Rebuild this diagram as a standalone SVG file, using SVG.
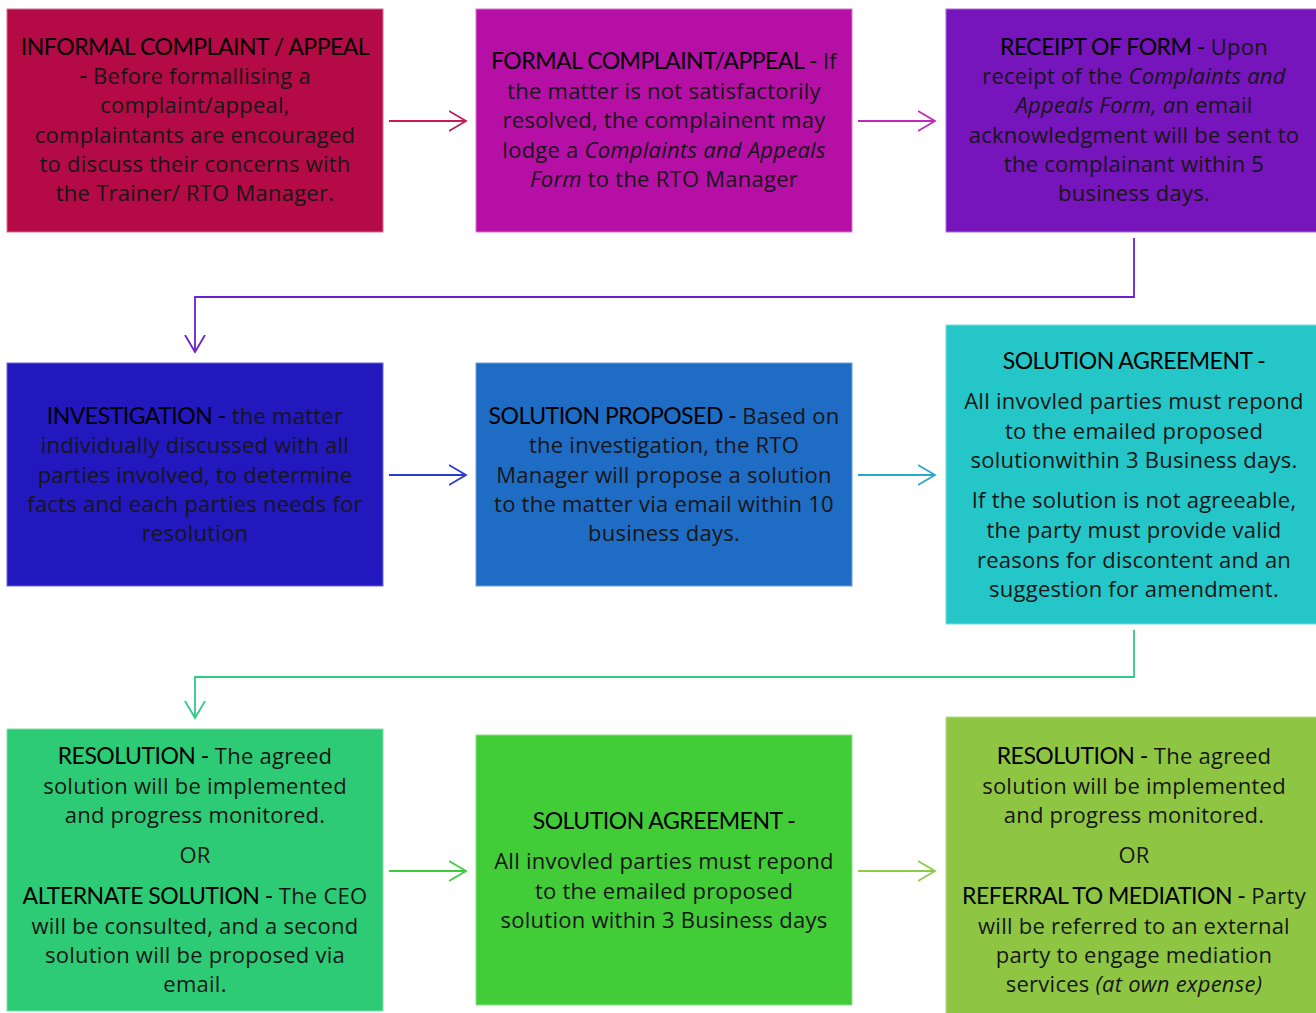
<svg xmlns="http://www.w3.org/2000/svg" width="1316" height="1013" viewBox="0 0 1316 1013">
<defs>
<style>
.box{stroke-width:1;}
.t{font-family:"Open Sans","Liberation Sans",sans-serif;font-weight:400;font-size:22px;fill:#161616;text-anchor:middle;letter-spacing:0.25px;}
.h{font-family:Lato,"Liberation Sans",sans-serif;font-weight:400;font-size:23px;fill:#000;letter-spacing:-0.5px;}
.i{font-style:italic;}
.c{fill:none;stroke-width:1.8;}
</style>
<marker id="m1" markerUnits="userSpaceOnUse" markerWidth="20" markerHeight="24" refX="17" refY="11" orient="auto"><path d="M0,1 L17,11 L0,21" fill="none" stroke="#C41C55" stroke-width="1.8"/></marker>
<marker id="m2" markerUnits="userSpaceOnUse" markerWidth="20" markerHeight="24" refX="17" refY="11" orient="auto"><path d="M0,1 L17,11 L0,21" fill="none" stroke="#C02AB5" stroke-width="1.8"/></marker>
<marker id="m3" markerUnits="userSpaceOnUse" markerWidth="20" markerHeight="24" refX="17" refY="11" orient="auto"><path d="M0,1 L17,11 L0,21" fill="none" stroke="#6A1FD0" stroke-width="1.8"/></marker>
<marker id="m4" markerUnits="userSpaceOnUse" markerWidth="20" markerHeight="24" refX="17" refY="11" orient="auto"><path d="M0,1 L17,11 L0,21" fill="none" stroke="#2A3DC8" stroke-width="1.8"/></marker>
<marker id="m5" markerUnits="userSpaceOnUse" markerWidth="20" markerHeight="24" refX="17" refY="11" orient="auto"><path d="M0,1 L17,11 L0,21" fill="none" stroke="#2CA5CF" stroke-width="1.8"/></marker>
<marker id="m6" markerUnits="userSpaceOnUse" markerWidth="20" markerHeight="24" refX="17" refY="11" orient="auto"><path d="M0,1 L17,11 L0,21" fill="none" stroke="#2FCB86" stroke-width="1.8"/></marker>
<marker id="m7" markerUnits="userSpaceOnUse" markerWidth="20" markerHeight="24" refX="17" refY="11" orient="auto"><path d="M0,1 L17,11 L0,21" fill="none" stroke="#3DCC3D" stroke-width="1.8"/></marker>
<marker id="m8" markerUnits="userSpaceOnUse" markerWidth="20" markerHeight="24" refX="17" refY="11" orient="auto"><path d="M0,1 L17,11 L0,21" fill="none" stroke="#8DCB46" stroke-width="1.8"/></marker>
</defs>
<rect width="1316" height="1013" fill="#fff"/>

<g id="connectors">
<path class="c" stroke="#C41C55" d="M389,121 H466" marker-end="url(#m1)"/>
<path class="c" stroke="#C02AB5" d="M858,121 H935" marker-end="url(#m2)"/>
<path class="c" stroke="#6A1FD0" d="M1134,238 V297 H195 V352" marker-end="url(#m3)"/>
<path class="c" stroke="#2A3DC8" d="M389,475 H466" marker-end="url(#m4)"/>
<path class="c" stroke="#2CA5CF" d="M858,475 H935" marker-end="url(#m5)"/>
<path class="c" stroke="#2FCB86" d="M1134,630 V677 H195 V718" marker-end="url(#m6)"/>
<path class="c" stroke="#3DCC3D" d="M389,871 H466" marker-end="url(#m7)"/>
<path class="c" stroke="#8DCB46" d="M858,871 H935" marker-end="url(#m8)"/>
</g>

<g id="n1">
<rect class="box" x="7" y="9" width="376" height="223" fill="#B40A46" stroke="#D96A90"/>
<text class="t" x="195" y="55"><tspan class="h">INFORMAL COMPLAINT / APPEAL</tspan></text>
<text class="t" x="195" y="84"><tspan class="h">-</tspan> Before formallising a</text>
<text class="t" x="195" y="113">complaint/appeal,</text>
<text class="t" x="195" y="143">complaintants are encouraged</text>
<text class="t" x="195" y="172">to discuss their concerns with</text>
<text class="t" x="195" y="201">the Trainer/ RTO Manager.</text>
</g>

<g id="n2">
<rect class="box" x="476" y="9" width="376" height="223" fill="#B60FA6" stroke="#D875CC"/>
<text class="t" x="664" y="69"><tspan class="h">FORMAL COMPLAINT/APPEAL -</tspan> If</text>
<text class="t" x="664" y="99">the matter is not satisfactorily</text>
<text class="t" x="664" y="128">resolved, the complainent may</text>
<text class="t" x="664" y="158">lodge a <tspan class="i">Complaints and Appeals</tspan></text>
<text class="t" x="664" y="187"><tspan class="i">Form</tspan> to the RTO Manager</text>
</g>

<g id="n3">
<rect class="box" x="946" y="9" width="376" height="223" fill="#7615BC" stroke="#A76CD6"/>
<text class="t" x="1134" y="55"><tspan class="h">RECEIPT OF FORM -</tspan> Upon</text>
<text class="t" x="1134" y="84">receipt of the <tspan class="i">Complaints and</tspan></text>
<text class="t" x="1134" y="113"><tspan class="i">Appeals Form, a</tspan>n email</text>
<text class="t" x="1134" y="143">acknowledgment will be sent to</text>
<text class="t" x="1134" y="172">the complainant within 5</text>
<text class="t" x="1134" y="201">business days.</text>
</g>

<g id="n4">
<rect class="box" x="7" y="363" width="376" height="223" fill="#2218BE" stroke="#6A66D8"/>
<text class="t" x="195" y="424"><tspan class="h">INVESTIGATION -</tspan> the matter</text>
<text class="t" x="195" y="453">individually discussed with all</text>
<text class="t" x="195" y="483">parties involved, to determine</text>
<text class="t" x="195" y="512">facts and each parties needs for</text>
<text class="t" x="195" y="541">resolution</text>
</g>

<g id="n5">
<rect class="box" x="476" y="363" width="376" height="223" fill="#1F6CC4" stroke="#6C9FDA"/>
<text class="t" x="664" y="424"><tspan class="h">SOLUTION PROPOSED -</tspan> Based on</text>
<text class="t" x="664" y="453">the investigation, the RTO</text>
<text class="t" x="664" y="483">Manager will propose a solution</text>
<text class="t" x="664" y="512">to the matter via email within 10</text>
<text class="t" x="664" y="541">business days.</text>
</g>

<g id="n6">
<rect class="box" x="946" y="325" width="376" height="299" fill="#24C6C8" stroke="#7ADCDD"/>
<text class="t" x="1134" y="369"><tspan class="h">SOLUTION AGREEMENT -</tspan></text>
<text class="t" x="1134" y="409">All invovled parties must repond</text>
<text class="t" x="1134" y="439">to the emailed proposed</text>
<text class="t" x="1134" y="468">solutionwithin 3 Business days.</text>
<text class="t" x="1134" y="508">If the solution is not agreeable,</text>
<text class="t" x="1134" y="538">the party must provide valid</text>
<text class="t" x="1134" y="568">reasons for discontent and an</text>
<text class="t" x="1134" y="597">suggestion for amendment.</text>
</g>

<g id="n7">
<rect class="box" x="7" y="729" width="376" height="282" fill="#2DCB75" stroke="#7FDDA8"/>
<text class="t" x="195" y="764"><tspan class="h">RESOLUTION -</tspan> The agreed</text>
<text class="t" x="195" y="794">solution will be implemented</text>
<text class="t" x="195" y="823">and progress monitored.</text>
<text class="t" x="195" y="863">OR</text>
<text class="t" x="195" y="904"><tspan class="h">ALTERNATE SOLUTION -</tspan> The CEO</text>
<text class="t" x="195" y="934">will be consulted, and a second</text>
<text class="t" x="195" y="963">solution will be proposed via</text>
<text class="t" x="195" y="992">email.</text>
</g>

<g id="n8">
<rect class="box" x="476" y="735" width="376" height="270" fill="#42CC38" stroke="#8CE085"/>
<text class="t" x="664" y="829"><tspan class="h">SOLUTION AGREEMENT -</tspan></text>
<text class="t" x="664" y="869">All invovled parties must repond</text>
<text class="t" x="664" y="899">to the emailed proposed</text>
<text class="t" x="664" y="928">solution within 3 Business days</text>
</g>

<g id="n9">
<rect class="box" x="946" y="717" width="376" height="300" fill="#8EC643" stroke="#B9DC8A"/>
<text class="t" x="1134" y="764"><tspan class="h">RESOLUTION -</tspan> The agreed</text>
<text class="t" x="1134" y="794">solution will be implemented</text>
<text class="t" x="1134" y="823">and progress monitored.</text>
<text class="t" x="1134" y="863">OR</text>
<text class="t" x="1134" y="904"><tspan class="h">REFERRAL TO MEDIATION -</tspan> Party</text>
<text class="t" x="1134" y="934">will be referred to an external</text>
<text class="t" x="1134" y="963">party to engage mediation</text>
<text class="t" x="1134" y="992">services <tspan class="i">(at own expense)</tspan></text>
</g>
</svg>
